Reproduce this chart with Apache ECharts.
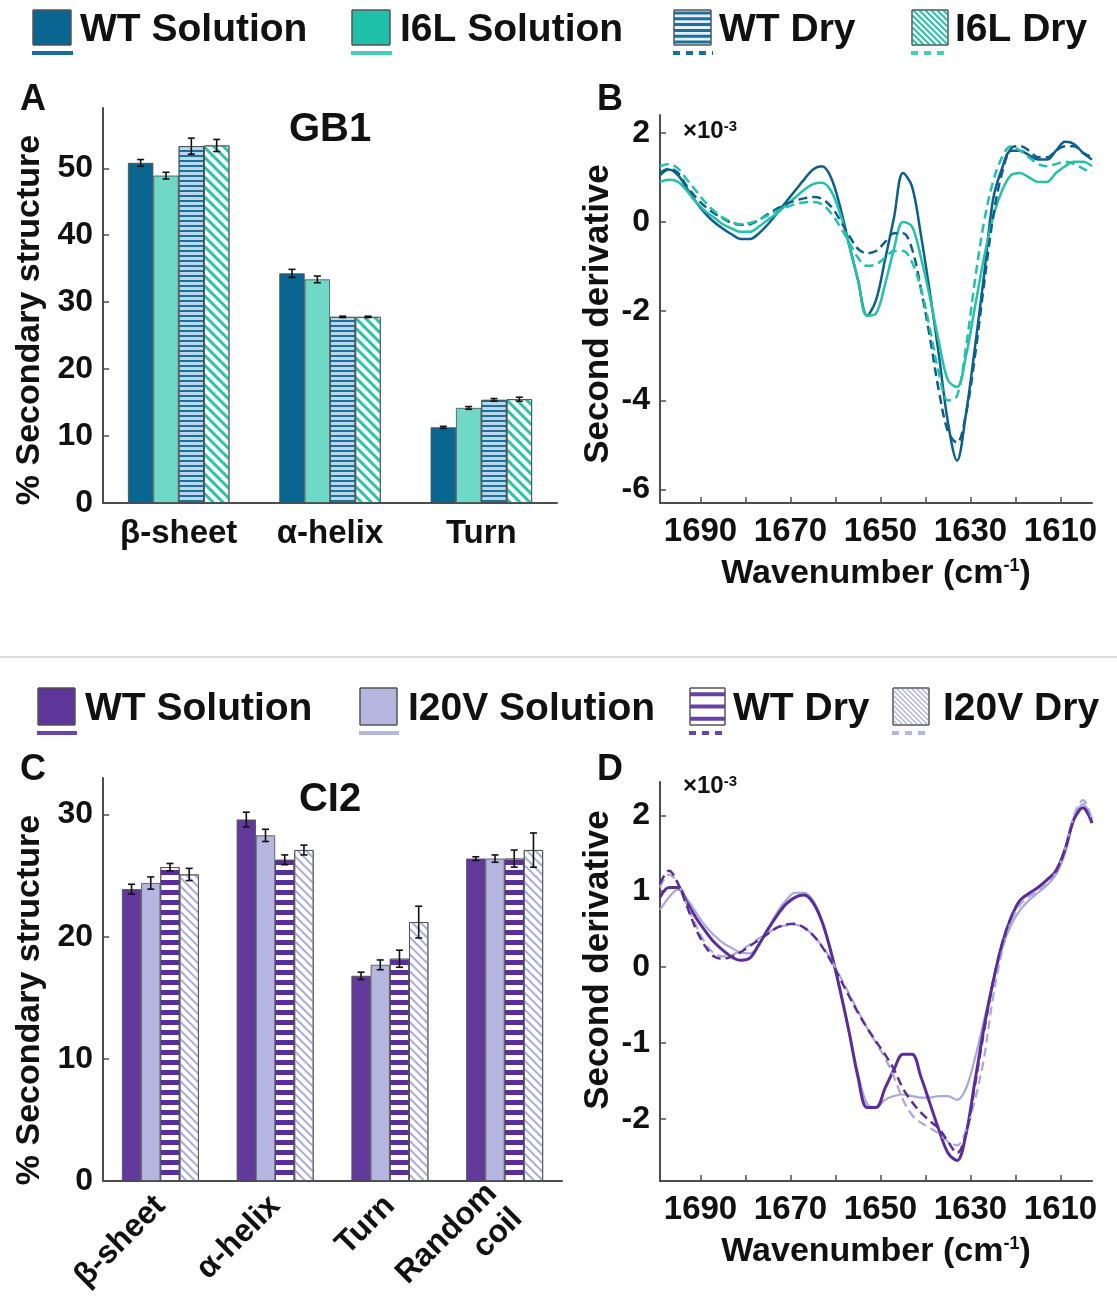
<!DOCTYPE html>
<html><head><meta charset="utf-8">
<script src="https://cdn.jsdelivr.net/npm/echarts@6/dist/echarts.min.js"></script>
<style>html,body{margin:0;padding:0;background:#fff}#c{width:1117px;height:1299px}</style>
</head><body><div id="c"></div>
<script>
// ---------- Panel A (GB1 bars) ----------
const gb1Categories = ['β-sheet', 'α-helix', 'Turn'];
const gb1WTSolution = [50.8, 34.3, 11.3];
const gb1WTSolutionErr = [0.5, 0.6, 0.15];
const gb1I6LSolution = [48.9, 33.4, 14.2];
const gb1I6LSolutionErr = [0.5, 0.5, 0.2];
const gb1WTDry = [53.3, 27.8, 15.4];
const gb1WTDryErr = [1.2, 0.1, 0.2];
const gb1I6LDry = [53.4, 27.8, 15.5];
const gb1I6LDryErr = [0.9, 0.1, 0.3];
const gb1YTicks = [0, 10, 20, 30, 40, 50];

// ---------- Panel C (CI2 bars) ----------
const ci2Categories = ['β-sheet', 'α-helix', 'Turn', 'Random\ncoil'];
const ci2WTSolution = [23.9, 29.6, 16.8, 26.4];
const ci2WTSolutionErr = [0.4, 0.6, 0.3, 0.15];
const ci2I20VSolution = [24.4, 28.3, 17.7, 26.4];
const ci2I20VSolutionErr = [0.5, 0.5, 0.4, 0.3];
const ci2WTDry = [25.7, 26.3, 18.2, 26.4];
const ci2WTDryErr = [0.3, 0.4, 0.7, 0.7];
const ci2I20VDry = [25.1, 27.1, 21.2, 27.1];
const ci2I20VDryErr = [0.5, 0.4, 1.3, 1.4];
const ci2YTicks = [0, 10, 20, 30];

// ---------- Panels B & D (second derivative spectra, x10^-3) ----------
const wavenumber = [1699,1697,1695,1693,1691,1689,1687,1685,1683,1681,1679,1677,1675,1673,1671,1669,1667,1665,1663,1661,1659,1657,1655,1653,1651,1649,1647,1645,1643,1641,1639,1637,1635,1633,1631,1629,1627,1625,1623,1621,1619,1617,1615,1613,1611,1609,1607,1605,1603];
const specXTicks = [1610, 1620, 1630, 1640, 1650, 1660, 1670, 1680, 1690];
const specXLabels = [1610, 1630, 1650, 1670, 1690];

const gb1SpecWTSolution = [1.05,1.18,1.05,0.75,0.45,0.2,0.0,-0.15,-0.28,-0.38,-0.38,-0.25,-0.05,0.2,0.45,0.7,0.95,1.18,1.25,1.0,0.35,-0.5,-1.3,-2.1,-1.75,-0.85,0.1,1.1,0.8,-0.3,-1.6,-3.0,-4.5,-5.35,-4.3,-2.8,-1.2,0.5,1.2,1.6,1.6,1.5,1.4,1.4,1.6,1.8,1.75,1.55,1.4];
const gb1SpecI6LSolution = [0.9,0.95,0.9,0.7,0.45,0.25,0.1,-0.05,-0.15,-0.22,-0.22,-0.1,0.05,0.2,0.38,0.55,0.72,0.85,0.88,0.7,0.2,-0.5,-1.3,-2.1,-2.05,-1.4,-0.6,0.0,-0.1,-0.8,-1.7,-2.7,-3.55,-3.7,-3.0,-1.9,-0.8,0.1,0.7,1.05,1.1,1.0,0.9,0.9,1.1,1.25,1.35,1.35,1.25];
const gb1SpecWTDry = [1.1,1.2,1.1,0.8,0.55,0.35,0.2,0.08,-0.02,-0.06,-0.05,0.05,0.18,0.3,0.4,0.48,0.53,0.56,0.52,0.35,0.05,-0.3,-0.6,-0.7,-0.65,-0.45,-0.25,-0.25,-0.6,-1.5,-2.6,-3.8,-4.7,-4.95,-4.3,-3.0,-1.4,0.1,1.1,1.65,1.7,1.6,1.45,1.45,1.6,1.7,1.7,1.55,1.45];
const gb1SpecI6LDry = [1.25,1.3,1.2,0.95,0.7,0.45,0.25,0.1,0.0,-0.05,-0.02,0.05,0.15,0.25,0.33,0.4,0.44,0.45,0.4,0.2,-0.1,-0.45,-0.8,-0.98,-0.95,-0.8,-0.65,-0.65,-0.9,-1.5,-2.4,-3.4,-4.0,-3.9,-2.8,-1.3,0.0,0.9,1.45,1.7,1.6,1.45,1.3,1.25,1.3,1.35,1.3,1.2,1.1];

const ci2SpecWTSolution = [0.92,1.05,1.05,0.85,0.65,0.48,0.33,0.22,0.13,0.09,0.12,0.3,0.5,0.68,0.83,0.92,0.95,0.85,0.6,0.2,-0.3,-0.85,-1.45,-1.85,-1.85,-1.6,-1.35,-1.15,-1.15,-1.45,-1.8,-2.15,-2.45,-2.55,-2.2,-1.5,-0.8,-0.2,0.3,0.65,0.88,0.97,1.05,1.15,1.27,1.55,1.95,2.1,1.9];
const ci2SpecI20VSolution = [0.75,0.92,1.02,0.9,0.72,0.55,0.42,0.32,0.25,0.19,0.18,0.3,0.5,0.72,0.88,0.98,0.98,0.88,0.6,0.2,-0.3,-0.85,-1.4,-1.8,-1.85,-1.75,-1.7,-1.68,-1.7,-1.72,-1.72,-1.7,-1.7,-1.75,-1.6,-1.2,-0.7,-0.2,0.25,0.55,0.75,0.88,0.98,1.08,1.22,1.5,1.95,2.15,1.95];
const ci2SpecWTDry = [1.1,1.27,1.1,0.8,0.5,0.28,0.14,0.11,0.14,0.2,0.28,0.36,0.44,0.52,0.56,0.57,0.52,0.42,0.27,0.08,-0.15,-0.38,-0.6,-0.8,-0.98,-1.15,-1.35,-1.6,-1.78,-1.92,-2.03,-2.13,-2.3,-2.45,-2.2,-1.55,-0.85,-0.2,0.3,0.65,0.88,0.97,1.05,1.15,1.27,1.55,1.95,2.1,1.9];
const ci2SpecI20VDry = [1.05,1.22,1.1,0.82,0.55,0.32,0.18,0.14,0.16,0.22,0.3,0.38,0.45,0.52,0.55,0.56,0.52,0.42,0.28,0.1,-0.12,-0.35,-0.58,-0.8,-1.0,-1.2,-1.45,-1.75,-1.95,-2.05,-2.12,-2.2,-2.3,-2.35,-2.15,-1.75,-1.2,-0.4,0.2,0.6,0.82,0.93,1.0,1.1,1.25,1.55,2.0,2.2,1.95];
const gb1SpecYTicks = [-6, -4, -2, 0, 2];
const ci2SpecYTicks = [-2, -1, 0, 1, 2];

// ---------- styling ----------
const FONT = 'Liberation Sans';
const C = {
  gbWT: '#0a6690', gbI6L: '#6fd8c6', gbI6Lleg: '#1ec0a8', gbWTline: '#0c5f8c', gbI6Lline: '#22c1a8',
  ciWT: '#623a9c', ciI20V: '#b4b6e0', ciWTline: '#5c2d99', ciI20Vline: '#a7a9dc'
};
const BAR_GAP = 0.33;
const decalHBlue = {symbol: 'rect', symbolSize: 1, dashArrayX: [1, 0], dashArrayY: [2, 3], color: '#1f6f9c', rotation: 0};
const decalDiagTeal = {symbol: 'rect', symbolSize: 1, dashArrayX: [1, 0], dashArrayY: [3, 4], color: '#2cc3ad', rotation: Math.PI / 4};
const decalHPurple = {symbol: 'rect', symbolSize: 1, dashArrayX: [1, 0], dashArrayY: [5, 5], color: '#5b2d9a', rotation: 0};
const decalDiagLav = {symbol: 'rect', symbolSize: 1, dashArrayX: [1, 0], dashArrayY: [2, 4], color: '#a8abdc', rotation: Math.PI / 4};

function barSeries(name, data, axis, fill, decal) {
  return {
    type: 'bar', name, data, xAxisIndex: axis, yAxisIndex: axis,
    barGap: '0%', barCategoryGap: (BAR_GAP * 100) + '%',
    itemStyle: Object.assign({color: fill, borderColor: '#4a4a4a', borderWidth: 0.8}, decal ? {decal} : {}),
    z: 2
  };
}
function errSeries(vals, errs, axis, idx, n) {
  return {
    type: 'custom', xAxisIndex: axis, yAxisIndex: axis, z: 5, silent: true,
    data: vals.map((v, i) => [i, v, errs[i]]),
    encode: {x: 0, y: 1},
    renderItem: function (params, api) {
      const ci = api.value(0), v = api.value(1), e = api.value(2);
      const band = api.size([1, 0])[0];
      const bw = band * (1 - BAR_GAP) / n;
      const cx = api.coord([ci, v])[0] + (idx - (n - 1) / 2) * bw;
      const yt = api.coord([ci, v + e])[1];
      const yb = api.coord([ci, v - e])[1];
      const cap = 3.5;
      const st = {stroke: '#111', lineWidth: 1.6};
      return {type: 'group', children: [
        {type: 'line', shape: {x1: cx, y1: yt, x2: cx, y2: yb}, style: st},
        {type: 'line', shape: {x1: cx - cap, y1: yt, x2: cx + cap, y2: yt}, style: st},
        {type: 'line', shape: {x1: cx - cap, y1: yb, x2: cx + cap, y2: yb}, style: st}
      ]};
    }
  };
}
function lineSeries(name, vals, axis, color, dashed, width) {
  return {
    type: 'line', name, xAxisIndex: axis, yAxisIndex: axis,
    data: wavenumber.map((w, i) => [w, vals[i]]),
    showSymbol: false, symbol: 'none', smooth: 0.35,
    lineStyle: {color, width: width || 2.5, type: dashed ? [9, 5] : 'solid'},
    z: dashed ? 4 : 3
  };
}

const labelStyle = {fontFamily: FONT, fontWeight: 'bold', fontSize: 33, color: '#111'};
const axisLineStyle = {show: true, onZero: false, lineStyle: {color: '#4d4d4d', width: 2}};
function valueY(grid, min, max, ticks) {
  return {
    type: 'value', gridIndex: grid, min, max,
    axisLine: axisLineStyle,
    axisTick: {show: true, inside: true, length: 6, lineStyle: {color: '#4d4d4d', width: 1.5}, customValues: ticks},
    axisLabel: Object.assign({customValues: ticks, margin: 10, formatter: v => String(v)}, labelStyle, {fontSize: 32}),
    splitLine: {show: false}
  };
}
function specX(grid) {
  return {
    type: 'value', gridIndex: grid, min: 1603, max: 1699, inverse: true,
    axisLine: axisLineStyle,
    axisTick: {show: true, inside: true, length: 6, lineStyle: {color: '#4d4d4d', width: 1.5}, customValues: specXTicks},
    axisLabel: Object.assign({customValues: specXLabels, margin: 12, formatter: v => String(v)}, labelStyle),
    splitLine: {show: false},
    name: '{a|Wavenumber (cm}{b|-1}{a|)}', nameLocation: 'middle', nameGap: 54,
    nameTextStyle: {rich: {
      a: {fontFamily: FONT, fontWeight: 'bold', fontSize: 34, color: '#111'},
      b: {fontFamily: FONT, fontWeight: 'bold', fontSize: 18, color: '#111', verticalAlign: 'top'}
    }}
  };
}

// ---------- legend graphics (decoration) ----------
function hStripes(x, y, w, h, color, count, th) {
  const out = [];
  for (let k = 0; k < count; k++) {
    const yy = y + (k + 0.5) * h / count;
    out.push({type: 'line', shape: {x1: x, y1: yy, x2: x + w, y2: yy}, style: {stroke: color, lineWidth: th}});
  }
  return out;
}
function diagStripes(x, y, w, h, color, step, th) {
  const out = [];
  for (let k = -h; k < w; k += step) {
    let x1 = x + k, y1 = y, x2 = x + k + h, y2 = y + h;
    if (x1 < x) { y1 += x - x1; x1 = x; }
    if (x2 > x + w) { y2 -= x2 - (x + w); x2 = x + w; }
    if (x2 > x1) out.push({type: 'line', shape: {x1, y1, x2, y2}, style: {stroke: color, lineWidth: th}});
  }
  return out;
}
function legendItem(x, y, w, h, fill, pattern, lineColor, dashed, text, tx) {
  const els = [{type: 'rect', shape: {x, y, width: w, height: h}, style: {fill: fill, stroke: '#555', lineWidth: 1}}];
  if (pattern) els.push(...pattern);
  els.push({type: 'rect', shape: {x, y, width: w, height: h}, style: {fill: 'none', stroke: '#555', lineWidth: 1}});
  els.push({type: 'line', shape: {x1: x - 1, y1: y + h + 8, x2: x + w + 2, y2: y + h + 8},
    style: {stroke: lineColor, lineWidth: 4, lineDash: dashed ? [7, 6] : null}});
  els.push({type: 'text', x: tx, y: y + h / 2 + 3, style: {text, fontFamily: FONT, fontWeight: 'bold', fontSize: 39, fill: '#111', verticalAlign: 'middle', align: 'left'}});
  return els;
}
const legendEls = [].concat(
  legendItem(33, 10, 38, 35, C.gbWT, null, '#1e6d99', false, 'WT Solution', 80),
  legendItem(352, 10, 38, 35, C.gbI6Lleg, null, '#45cfbb', false, 'I6L Solution', 400),
  legendItem(674, 10, 37, 35, '#e6f1f7', hStripes(674, 10, 37, 35, '#1f6f9c', 6, 3), '#1e6d99', true, 'WT Dry', 719),
  legendItem(912, 10, 36, 35, '#ffffff', diagStripes(912, 10, 36, 35, '#2cc3ad', 6, 2.2), '#45cfbb', true, 'I6L Dry', 955),
  legendItem(38, 688, 37, 37, '#5e3598', null, '#6a45a8', false, 'WT Solution', 85),
  legendItem(360, 688, 37, 37, C.ciI20V, null, '#b4b6e0', false, 'I20V Solution', 408),
  legendItem(690, 688, 35, 37, '#ffffff', hStripes(690, 688, 35, 37, '#6a40a8', 3, 4), '#6a45a8', true, 'WT Dry', 733),
  legendItem(893, 688, 36, 37, '#ffffff', diagStripes(893, 688, 36, 37, '#b0b2e0', 5, 1.4), '#b4b6e0', true, 'I20V Dry', 943)
);
function txt(x, y, text, size, align) {
  return {type: 'text', x, y, style: {text, fontFamily: FONT, fontWeight: 'bold', fontSize: size, fill: '#111', align: align || 'left', verticalAlign: 'middle'}};
}
function vtxt(x, y, text, size) {
  return {type: 'text', x, y, rotation: Math.PI / 2, style: {text, fontFamily: FONT, fontWeight: 'bold', fontSize: size, fill: '#111', align: 'center', verticalAlign: 'middle'}};
}
function sci(x, y) {
  return {type: 'text', x, y, style: {text: '{a|×10}{b|-3}', verticalAlign: 'middle', rich: {
    a: {fontFamily: FONT, fontSize: 24, fontWeight: 'bold', fill: '#111', color: '#111'},
    b: {fontFamily: FONT, fontSize: 15, fontWeight: 'bold', fill: '#111', color: '#111', verticalAlign: 'top'}
  }}};
}
const otherEls = [
  txt(20, 100, 'A', 36), txt(597, 100, 'B', 36), txt(20, 770, 'C', 36), txt(597, 770, 'D', 36),
  txt(330, 130, 'GB1', 40, 'center'), txt(330, 800, 'CI2', 40, 'center'),
  sci(683, 131), sci(683, 786),
  vtxt(30, 320, '% Secondary structure', 34), vtxt(598, 314, 'Second derivative', 35),
  vtxt(30, 1000, '% Secondary structure', 34), vtxt(598, 960, 'Second derivative', 35),
  {type: 'line', shape: {x1: 0, y1: 657, x2: 1117, y2: 657}, style: {stroke: '#dcdcdc', lineWidth: 2}}
];

const option = {
  animation: false,
  backgroundColor: '#ffffff',
  grid: [
    {left: 103, top: 108, width: 454, height: 395, outerBoundsMode: 'none', containLabel: false},
    {left: 660, top: 115, width: 432, height: 388, outerBoundsMode: 'none', containLabel: false},
    {left: 103, top: 778, width: 459, height: 403, outerBoundsMode: 'none', containLabel: false},
    {left: 660, top: 782, width: 432, height: 399, outerBoundsMode: 'none', containLabel: false}
  ],
  xAxis: [
    {type: 'category', gridIndex: 0, data: gb1Categories, axisLine: axisLineStyle, axisTick: {show: false},
      axisLabel: Object.assign({margin: 14, interval: 0}, labelStyle)},
    specX(1),
    {type: 'category', gridIndex: 2, data: ci2Categories, axisLine: axisLineStyle, axisTick: {show: false},
      axisLabel: Object.assign({margin: 20, rotate: 45, interval: 0, lineHeight: 36}, labelStyle, {fontSize: 32})},
    specX(3)
  ],
  yAxis: [
    valueY(0, 0, 59, gb1YTicks),
    valueY(1, -6.3, 2.4, gb1SpecYTicks),
    valueY(2, 0, 33, ci2YTicks),
    valueY(3, -2.82, 2.44, ci2SpecYTicks)
  ],
  series: [
    barSeries('GB1 WT Solution', gb1WTSolution, 0, C.gbWT),
    barSeries('GB1 I6L Solution', gb1I6LSolution, 0, C.gbI6L),
    barSeries('GB1 WT Dry', gb1WTDry, 0, '#b9d8e9', decalHBlue),
    barSeries('GB1 I6L Dry', gb1I6LDry, 0, '#ffffff', decalDiagTeal),
    errSeries(gb1WTSolution, gb1WTSolutionErr, 0, 0, 4),
    errSeries(gb1I6LSolution, gb1I6LSolutionErr, 0, 1, 4),
    errSeries(gb1WTDry, gb1WTDryErr, 0, 2, 4),
    errSeries(gb1I6LDry, gb1I6LDryErr, 0, 3, 4),
    lineSeries('GB1 WT Dry', gb1SpecWTDry, 1, C.gbWTline, true),
    lineSeries('GB1 I6L Dry', gb1SpecI6LDry, 1, C.gbI6Lline, true),
    lineSeries('GB1 WT Solution', gb1SpecWTSolution, 1, C.gbWTline, false),
    lineSeries('GB1 I6L Solution', gb1SpecI6LSolution, 1, C.gbI6Lline, false),
    barSeries('CI2 WT Solution', ci2WTSolution, 2, C.ciWT),
    barSeries('CI2 I20V Solution', ci2I20VSolution, 2, C.ciI20V),
    barSeries('CI2 WT Dry', ci2WTDry, 2, '#ffffff', decalHPurple),
    barSeries('CI2 I20V Dry', ci2I20VDry, 2, '#ffffff', decalDiagLav),
    errSeries(ci2WTSolution, ci2WTSolutionErr, 2, 0, 4),
    errSeries(ci2I20VSolution, ci2I20VSolutionErr, 2, 1, 4),
    errSeries(ci2WTDry, ci2WTDryErr, 2, 2, 4),
    errSeries(ci2I20VDry, ci2I20VDryErr, 2, 3, 4),
    lineSeries('CI2 I20V Solution', ci2SpecI20VSolution, 3, C.ciI20Vline, false, 2.2),
    lineSeries('CI2 I20V Dry', ci2SpecI20VDry, 3, C.ciI20Vline, true, 2.2),
    lineSeries('CI2 WT Dry', ci2SpecWTDry, 3, C.ciWTline, true, 2.5),
    lineSeries('CI2 WT Solution', ci2SpecWTSolution, 3, C.ciWTline, false, 3)
  ],
  graphic: legendEls.concat(otherEls)
};
const chart = echarts.init(document.getElementById('c'), null, {renderer: 'canvas'});
chart.setOption(option);
</script>
</body></html>
